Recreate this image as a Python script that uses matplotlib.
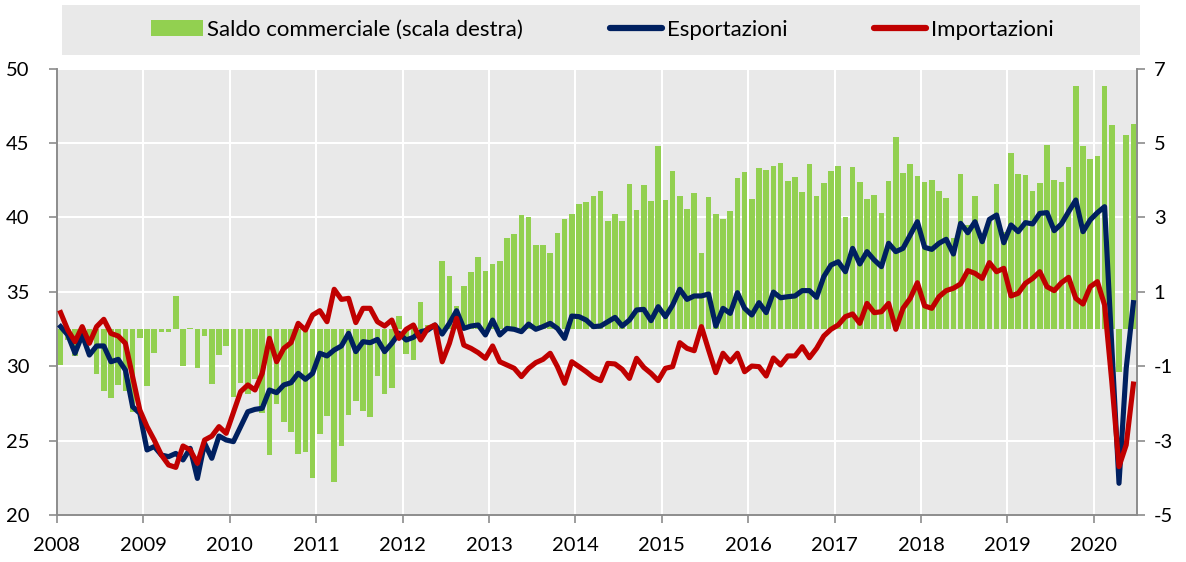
import numpy as np
import matplotlib
matplotlib.use("Agg")
import matplotlib.pyplot as plt
from matplotlib.patches import Patch, Rectangle
from matplotlib.lines import Line2D

plt.rcParams['font.family'] = ['Lato', 'DejaVu Sans']
plt.rcParams['axes.unicode_minus'] = False

# monthly data, 2008-01 .. 2020-06
esportazioni = [
    32.66, 32.10, 30.87, 32.10, 30.75, 31.36, 31.36, 30.30, 30.46, 29.74, 27.28, 26.83,
    24.37, 24.60, 24.03, 23.92, 24.14, 23.70, 24.48, 22.46, 24.82, 23.81, 25.31, 25.04,
    24.93, 25.94, 26.94, 27.10, 27.17, 28.40, 28.22, 28.74, 28.89, 29.52, 29.12, 29.52,
    30.87, 30.69, 31.09, 31.36, 32.21, 30.98, 31.65, 31.58, 31.80, 30.98, 31.54, 32.21,
    31.76, 31.94, 32.32, 32.43, 32.77, 32.16, 32.88, 33.73, 32.54, 32.70, 32.77, 32.10,
    33.10, 32.10, 32.54, 32.48, 32.32, 32.83, 32.48, 32.66, 32.88, 32.54, 31.87, 33.37,
    33.33, 33.10, 32.66, 32.70, 32.99, 33.28, 32.70, 33.10, 33.78, 33.82, 33.06, 34.00,
    33.33, 34.11, 35.17, 34.49, 34.72, 34.72, 34.85, 32.70, 33.89, 33.55, 34.94, 33.89,
    33.44, 34.27, 33.60, 34.98, 34.60, 34.67, 34.72, 35.08, 35.08, 34.63, 36.02, 36.80,
    37.02, 36.35, 37.92, 36.87, 37.70, 37.14, 36.69, 38.26, 37.70, 37.92, 38.82, 39.71,
    37.99, 37.85, 38.26, 38.53, 37.54, 39.60, 38.97, 39.71, 38.37, 39.87, 40.16, 38.30,
    39.49, 39.04, 39.65, 39.56, 40.27, 40.32, 39.11, 39.56, 40.38, 41.17, 39.04, 39.83,
    40.32, 40.72, 31.31, 22.13, 29.86, 34.27,
]
importazioni = [
    33.60, 32.43, 31.65, 32.66, 31.54, 32.66, 33.15, 32.20, 32.03, 31.54, 29.30, 27.06,
    25.94, 25.04, 24.03, 23.36, 23.20, 24.64, 24.37, 23.47, 25.04, 25.30, 25.94, 25.49,
    26.90, 28.29, 28.74, 28.40, 29.52, 31.87, 30.30, 31.20, 31.58, 32.88, 32.43, 33.44,
    33.73, 32.99, 35.17, 34.49, 34.56, 32.93, 33.89, 33.89, 32.99, 32.70, 33.10, 31.87,
    32.48, 32.77, 31.76, 32.54, 32.77, 30.30, 31.54, 33.22, 31.42, 31.20, 30.91, 30.53,
    31.36, 30.30, 30.08, 29.86, 29.30, 29.86, 30.24, 30.46, 30.87, 29.97, 28.85, 30.30,
    29.97, 29.63, 29.25, 29.03, 30.19, 30.15, 29.79, 29.18, 30.53, 29.92, 29.52, 29.03,
    29.86, 29.97, 31.58, 31.20, 31.04, 32.66, 31.09, 29.57, 30.87, 30.30, 30.87, 29.63,
    30.01, 29.97, 29.34, 30.55, 30.08, 30.69, 30.69, 31.31, 30.57, 31.20, 32.03, 32.48,
    32.77, 33.33, 33.51, 32.88, 34.22, 33.60, 33.66, 34.22, 32.48, 33.89, 34.56, 35.61,
    34.05, 33.89, 34.67, 35.08, 35.24, 35.53, 36.42, 36.24, 35.90, 36.96, 36.35, 36.58,
    34.72, 34.90, 35.57, 35.90, 36.35, 35.34, 35.08, 35.61, 35.97, 34.56, 34.18, 35.34,
    35.68, 34.11, 28.96, 23.25, 24.71, 28.80,
]
saldo = [
    -0.96, -0.30, -0.73, -0.30, -0.40, -1.21, -1.68, -1.86, -1.50, -1.68, -2.22, -0.25,
    -1.54, -0.65, -0.07, -0.07, 0.90, -1.00, 0.03, -1.04, -0.18, -1.49, -0.69, -0.45,
    -1.84, -1.45, -1.75, -1.34, -2.26, -3.39, -2.02, -2.51, -2.76, -3.35, -3.30, -4.01,
    -2.83, -2.35, -4.12, -3.14, -2.31, -1.93, -2.20, -2.36, -1.25, -1.74, -1.58, 0.34,
    -0.67, -0.84, 0.72, 0.10, 0.10, 1.84, 1.42, 0.61, 1.16, 1.52, 1.93, 1.56,
    1.76, 1.83, 2.45, 2.55, 3.06, 3.02, 2.27, 2.26, 2.04, 2.58, 2.97, 3.08,
    3.36, 3.41, 3.57, 3.71, 2.90, 3.10, 2.90, 3.89, 3.20, 3.87, 3.44, 4.91,
    3.47, 4.26, 3.58, 3.23, 3.65, 2.03, 3.55, 3.09, 2.97, 3.16, 4.06, 4.21,
    3.49, 4.32, 4.27, 4.38, 4.46, 3.98, 4.09, 3.68, 4.43, 3.58, 3.92, 4.25,
    4.37, 3.00, 4.35, 3.95, 3.49, 3.61, 3.12, 3.99, 5.17, 4.20, 4.44, 4.10,
    3.94, 4.00, 3.70, 3.53, 2.44, 4.17, 2.80, 3.58, 2.50, 2.90, 3.90, 2.60,
    4.74, 4.17, 4.14, 3.70, 3.92, 4.95, 4.00, 3.95, 4.35, 6.54, 4.93, 4.57,
    4.65, 6.54, 5.48, -1.16, 5.21, 5.51,
]
anni = list(range(2008, 2021))

verde = '#92d050'
blu = '#002060'
rosso = '#c00000'
sfondo = '#e9e9e9'
grigio = '#8c8c8c'

x = 2008 + (np.arange(len(saldo)) + 0.5) / 12

fig = plt.figure(figsize=(11.86, 5.62), dpi=100)
ax2 = fig.add_axes([57 / 1186, 1 - 515 / 562, (1137 - 57) / 1186, (515 - 68.6) / 562])
ax = ax2.twinx()
ax2.yaxis.tick_right()
ax.yaxis.tick_left()

# bars on the right scale, behind the lines
ax2.set_facecolor(sfondo)
ax2.bar(x, saldo, width=0.78 / 12, color=verde, zorder=2)
ax2.set_ylim(-5, 7)
ax2.set_yticks([-5, -3, -1, 1, 3, 5, 7])
ax2.set_axisbelow(True)
ax2.grid(True, color='white', linewidth=1.5)

ax.set_zorder(ax2.get_zorder() + 1)
ax.patch.set_visible(False)
ax.plot(x, esportazioni, color=blu, lw=3.7, solid_joinstyle='round', zorder=3)
ax.plot(x, importazioni, color=rosso, lw=3.7, solid_joinstyle='round', zorder=4)
ax.set_ylim(20, 50)
ax.set_yticks(range(20, 51, 5))
ax.set_xlim(2008, 2020.5)
ax.set_xticks(anni)
ax2.set_xticks(anni)
ax2.set_xticklabels([str(a) for a in anni])

for a in (ax, ax2):
    a.spines['top'].set_visible(False)
    for s in ('left', 'right', 'bottom'):
        a.spines[s].set_color(grigio)
        a.spines[s].set_linewidth(1.2)
    a.tick_params(colors=grigio, labelcolor='black', labelsize=14.5, length=6, width=1.2)
ax.tick_params(axis='y', pad=14)
ax2.tick_params(axis='y', pad=6)
ax2.tick_params(axis='x', pad=10)

# legend band
fig.patches.append(Rectangle((62 / 1186, 1 - 55 / 562), (1140 - 62) / 1186, 50 / 562,
                             transform=fig.transFigure, facecolor=sfondo, edgecolor='none'))
handles = [Patch(facecolor=verde, edgecolor='none'),
           Line2D([], [], color=blu, lw=4.5, solid_capstyle='round'),
           Line2D([], [], color=rosso, lw=4.5, solid_capstyle='round')]
labels = ['Saldo commerciale (scala destra)', 'Esportazioni', 'Importazioni']
fig.legend(handles, labels, loc='center', bbox_to_anchor=(602 / 1186, 1 - 30 / 562),
           ncol=3, frameon=False, fontsize=16, handlelength=2.35, handleheight=0.75,
           handletextpad=0.2, columnspacing=3.9)

fig.savefig('out.png', dpi=100)
